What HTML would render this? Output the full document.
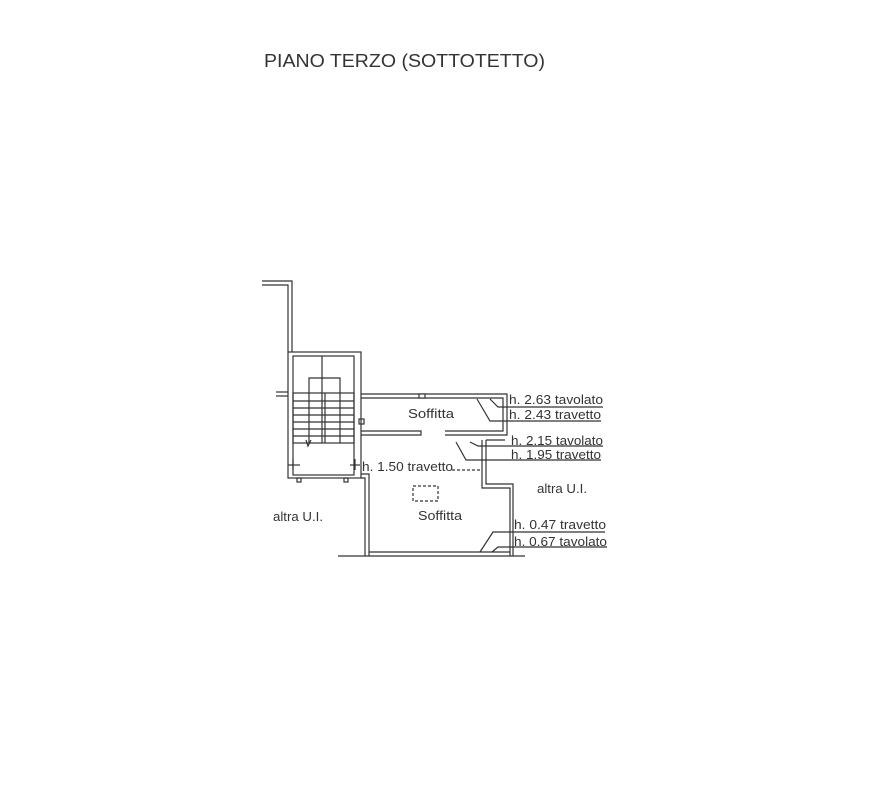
<!DOCTYPE html>
<html><head><meta charset="utf-8"><style>
html,body{margin:0;padding:0;background:#fff;}
svg{display:block}
text{font-family:"Liberation Sans",Arial,sans-serif;fill:#333}
</style></head><body>
<svg width="871" height="809" viewBox="0 0 871 809" xmlns="http://www.w3.org/2000/svg">
<text x="264" y="67" font-size="18" fill="#444" textLength="281" lengthAdjust="spacingAndGlyphs">PIANO TERZO (SOTTOTETTO)</text>
<g stroke="#333" stroke-width="1.2" fill="none">
<polyline points="262,281 292,281 292,352"/>
<polyline points="262,285 288,285 288,352"/>
<rect x="288" y="352" width="73" height="126"/>
<rect x="293" y="356" width="61" height="119"/>
<line x1="276" y1="392" x2="288" y2="392"/><line x1="276" y1="396" x2="288" y2="396"/>
<line x1="322" y1="356" x2="322" y2="378"/>
<polyline points="309,443 309,378 340,378 340,443"/>
<rect x="293" y="393" width="61" height="50"/>
<line x1="322" y1="378" x2="322" y2="443"/><line x1="325" y1="393" x2="325" y2="443"/>
<line x1="293" y1="401" x2="354" y2="401"/><line x1="293" y1="408" x2="354" y2="408"/>
<line x1="293" y1="415" x2="354" y2="415"/><line x1="293" y1="422" x2="354" y2="422"/>
<line x1="293" y1="429" x2="354" y2="429"/><line x1="293" y1="436" x2="354" y2="436"/>
<polyline points="306,440 308,446 311,440"/>
<line x1="288" y1="465" x2="300" y2="465"/><line x1="293" y1="459" x2="293" y2="470"/>
<line x1="350" y1="465" x2="360" y2="465"/><line x1="355" y1="459" x2="355" y2="470"/>
<rect x="297" y="478" width="4" height="4"/><rect x="344" y="478" width="4" height="4"/>
<rect x="359" y="419" width="5" height="5"/>
<polyline points="361,394 507,394 507,435 445,435"/>
<polyline points="361,398 503,398 503,431 445,431"/>
<rect x="419" y="394" width="6" height="4" fill="#fff"/>
<polyline points="361,431 421,431 421,435 361,435"/>
<polyline points="482,440 482,488 510,488 510,556"/>
<polyline points="486,440 486,484 513,484 513,556"/>
<line x1="486" y1="440" x2="505" y2="440"/>
<polyline points="361,478 365,478 365,556"/>
<polyline points="361,474 369,474 369,556"/>
<line x1="338" y1="556" x2="525" y2="556"/><line x1="369" y1="552" x2="510" y2="552"/>
<line x1="452" y1="470" x2="482" y2="470" stroke-dasharray="3,2"/>
<rect x="413" y="486" width="25" height="15" stroke-dasharray="3,2"/>
<polyline points="490,399 498,407 603,407"/>
<polyline points="477,399 490,421 601,421"/>
<polyline points="470,442 478,446 603,446"/>
<polyline points="456,442 466,460 601,460"/>
<polyline points="480,552 493,532 605,532"/>
<polyline points="492,552 498,547 607,547"/>
</g>
<g font-size="13">
<text x="509" y="404" textLength="94" lengthAdjust="spacingAndGlyphs">h. 2.63 tavolato</text>
<text x="509" y="419" textLength="92" lengthAdjust="spacingAndGlyphs">h. 2.43 travetto</text>
<text x="511" y="445" textLength="92" lengthAdjust="spacingAndGlyphs">h. 2.15 tavolato</text>
<text x="511" y="459" textLength="90" lengthAdjust="spacingAndGlyphs">h. 1.95 travetto</text>
<text x="362" y="471" textLength="91" lengthAdjust="spacingAndGlyphs">h. 1.50 travetto</text>
<text x="514" y="529" textLength="92" lengthAdjust="spacingAndGlyphs">h. 0.47 travetto</text>
<text x="514" y="546" textLength="93" lengthAdjust="spacingAndGlyphs">h. 0.67 tavolato</text>
<text x="408" y="418" textLength="46" lengthAdjust="spacingAndGlyphs">Soffitta</text>
<text x="418" y="520" textLength="44" lengthAdjust="spacingAndGlyphs">Soffitta</text>
<text x="537" y="493" textLength="50" lengthAdjust="spacingAndGlyphs">altra U.I.</text>
<text x="273" y="521" textLength="50" lengthAdjust="spacingAndGlyphs">altra U.I.</text>
</g>
</svg>
</body></html>
